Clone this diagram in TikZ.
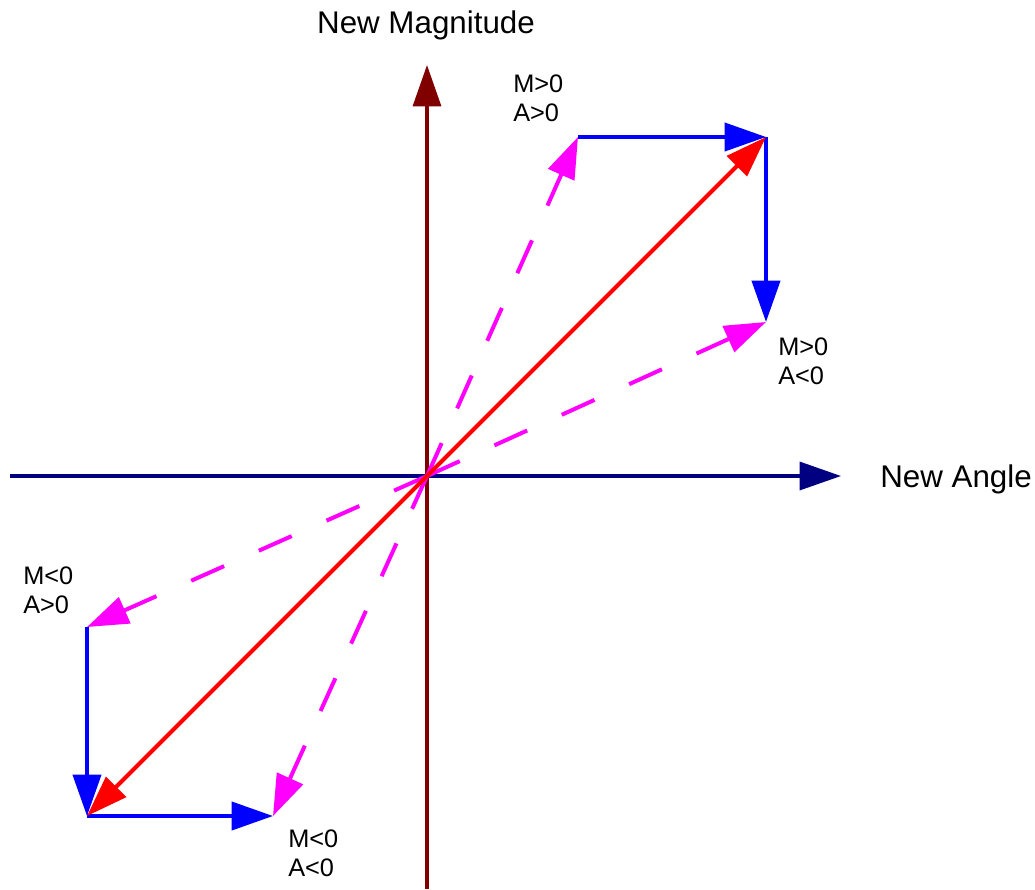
\documentclass[tikz,border=0pt]{standalone}
\usepackage{fontspec}
\setmainfont{Liberation Sans}
\usetikzlibrary{arrows.meta}
\definecolor{magaxis}{RGB}{128,0,0}
\definecolor{angaxis}{RGB}{0,0,128}
\definecolor{vecblue}{RGB}{0,0,255}
\definecolor{vecred}{RGB}{255,0,0}
\definecolor{vecmag}{RGB}{255,0,255}

\begin{document}
\begin{tikzpicture}[
  x=0.75pt, y=-0.75pt,
  tip/.style={-{Triangle[length=31pt,width=21pt]}},
  axis/.style={tip, line width=2.4pt},
  vec/.style={tip, line width=3pt},
  dvec/.style={vec, draw=vecmag, dash pattern=on 27pt off 28.5pt},
  quad/.style={align=left, anchor=north west, inner sep=0pt, font=\fontsize{19}{21.75}\selectfont},
  axlabel/.style={inner sep=0pt, font=\fontsize{23.5}{26}\selectfont},
]
\useasboundingbox (0,0) rectangle (1035,889);

% ---- axes ----
\coordinate (O) at (427,476);
\coordinate (xl) at (10,476);
\coordinate (xr) at (841,476);
\coordinate (yb) at (427,889);
\coordinate (yt) at (427,65);
\draw[axis, draw=angaxis] (xl) -- (xr);
\draw[axis, draw=magaxis] (yb) -- (yt);
\node[axlabel, anchor=base] (lmag) at (426,33) {New Magnitude};
\node[axlabel, anchor=base west] (lang) at (880,487) {New Angle};

% ---- corner points ----
\coordinate (pa) at (578,137);   % M>0 A>0
\coordinate (pp) at (766,137);
\coordinate (pb) at (766,322);   % M>0 A<0
\coordinate (nc) at (87,627);    % M<0 A>0
\coordinate (nn) at (87,816);
\coordinate (nd) at (273,816);   % M<0 A<0

% ---- component steps ----
\draw[vec, draw=vecblue] (pa) -- (pp);
\draw[vec, draw=vecblue] (pp) -- (pb);
\draw[vec, draw=vecblue] (nc) -- (nn);
\draw[vec, draw=vecblue] (nn) -- (nd);

% ---- dashed single steps ----
\draw[dvec] (O) -- (pa);
\draw[dvec] (O) -- (pb);
\draw[dvec] (O) -- (nc);
\draw[dvec] (O) -- (nd);

% ---- combined steps ----
\draw[vec, draw=vecred] (O) -- (pp);
\draw[vec, draw=vecred] (O) -- (nn);

% ---- quadrant labels ----
\node[quad] (qa) at (513,75) {M>0\\A>0};
\node[quad] (qb) at (778,338) {M>0\\A<0};
\node[quad] (qc) at (23,567) {M<0\\A>0};
\node[quad] (qd) at (288,830) {M<0\\A<0};

\end{tikzpicture}
\end{document}
